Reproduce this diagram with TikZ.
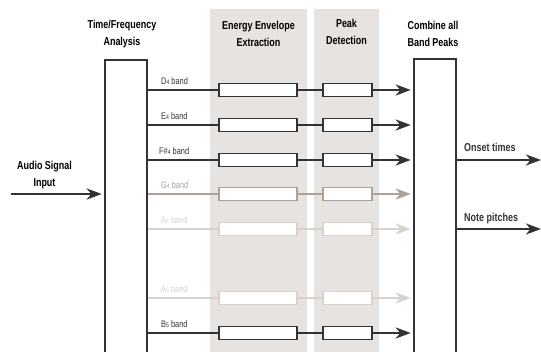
\documentclass[tikz,border=0pt]{standalone}
\usepackage{fontspec}
\setmainfont{Liberation Sans}[FakeStretch=0.78]
\usetikzlibrary{positioning,arrows.meta}
\definecolor{colgray}{HTML}{E6E3E0}
\definecolor{banddark}{HTML}{333333}
\definecolor{bandmid}{HTML}{ACA09B}
\definecolor{bandlight}{HTML}{D8D1CC}
\newcommand{\octv}[1]{{\fontsize{6.5}{7}\selectfont #1}}
\tikzset{
  tallbox/.style={draw=banddark, line width=2.5pt, fill=white, minimum width=42pt,
    minimum height=340pt, anchor=north, inner sep=0pt},
  envbox/.style={draw, line width=1.4pt, fill=white, minimum width=78pt,
    minimum height=13pt, inner sep=0pt},
  pkbox/.style={envbox, minimum width=49pt},
  bandline/.style={line width=2.6pt},
  bandarrow/.style={bandline, -{Stealth[length=15pt, width=11pt, inset=4.5pt]}, shorten >=2pt},
  bandlabel/.style={font=\fontsize{9.5}{10}\selectfont, anchor=base west, inner sep=0pt},
  figtitle/.style={font=\fontsize{11.5}{17}\selectfont\bfseries, align=center, inner sep=0pt},
  outlabel/.style={font=\fontsize{11.5}{13}\selectfont\bfseries, anchor=base west, inner sep=0pt},
}

\begin{document}
\begin{tikzpicture}[x=1pt, y=-1pt]
  \useasboundingbox (0,0) rectangle (541,352);
  \clip (0,0) rectangle (541,352);
  % stage columns
  \fill[colgray] (210,9) rectangle (307,360);
  \fill[colgray] (314,9) rectangle (379,360);
  % titles
  \node[figtitle] (ttfa) at (122,34) {Time/Frequency\\Analysis};
  \node[figtitle] (tenv) at (258.5,34) {Energy Envelope\\Extraction};
  \node[figtitle] (tpk) at (346.5,32) {Peak\\Detection};
  \node[figtitle] (tcmb) at (433,34) {Combine all\\Band Peaks};
  % analysis and combine blocks
  \node[tallbox] (tfa) at (126,59) {};
  \node[tallbox] (cmb) at (435,58) {};
  % input
  \node[figtitle] (ain) at (44.5,175) {Audio Signal\\Input};
  \coordinate (asrc) at (11,194);
  \draw[bandarrow, banddark] (asrc) -- (tfa.west |- asrc);
  % outputs
  \coordinate (onset) at (541,160);
  \coordinate (pitch) at (541,229);
  \draw[bandarrow, banddark, shorten >=0pt] (cmb.east |- onset) -- (onset);
  \draw[bandarrow, banddark, shorten >=0pt] (cmb.east |- pitch) -- (pitch);
  \node[outlabel, text=banddark] (lonset) at (464,152) {Onset times};
  \node[outlabel, text=banddark] (lpitch) at (464,222) {Note pitches};
  % D4 band
  \node[envbox, draw=banddark] (eD) at (258,90) {};
  \node[pkbox, draw=banddark] (pD) at (347.5,90) {};
  \node[bandlabel, text=banddark] (lD) at (161,85) {D\octv{4} band};
  \draw[bandline, banddark] (tfa.east |- eD) -- (eD);
  \draw[bandline, banddark] (eD) -- (pD);
  \draw[bandarrow, banddark] (pD) -- (cmb.west |- pD);
  % E4 band
  \node[envbox, draw=banddark] (eE) at (258,125) {};
  \node[pkbox, draw=banddark] (pE) at (347.5,125) {};
  \node[bandlabel, text=banddark] (lE) at (161,120) {E\octv{4} band};
  \draw[bandline, banddark] (tfa.east |- eE) -- (eE);
  \draw[bandline, banddark] (eE) -- (pE);
  \draw[bandarrow, banddark] (pE) -- (cmb.west |- pE);
  % F#4 band
  \node[envbox, draw=banddark] (eF) at (258,160) {};
  \node[pkbox, draw=banddark] (pF) at (347.5,160) {};
  \node[bandlabel, text=banddark] (lF) at (159,155) {F\#\octv{4} band};
  \draw[bandline, banddark] (tfa.east |- eF) -- (eF);
  \draw[bandline, banddark] (eF) -- (pF);
  \draw[bandarrow, banddark] (pF) -- (cmb.west |- pF);
  % G4 band
  \node[envbox, draw=bandmid] (eG) at (258,194) {};
  \node[pkbox, draw=bandmid] (pG) at (347.5,194) {};
  \node[bandlabel, text=bandmid] (lG) at (161,189) {G\octv{4} band};
  \draw[bandline, bandmid] (tfa.east |- eG) -- (eG);
  \draw[bandline, bandmid] (eG) -- (pG);
  \draw[bandarrow, bandmid] (pG) -- (cmb.west |- pG);
  % A4 band
  \node[envbox, draw=bandlight] (eA) at (258,229) {};
  \node[pkbox, draw=bandlight] (pA) at (347.5,229) {};
  \node[bandlabel, text=bandlight] (lA) at (161,224) {A\octv{4} band};
  \draw[bandline, bandlight] (tfa.east |- eA) -- (eA);
  \draw[bandline, bandlight] (eA) -- (pA);
  \draw[bandarrow, bandlight] (pA) -- (cmb.west |- pA);
  % A5 band
  \node[envbox, draw=bandlight] (eAf) at (258,298) {};
  \node[pkbox, draw=bandlight] (pAf) at (347.5,298) {};
  \node[bandlabel, text=bandlight] (lAf) at (161,293) {A\octv{5} band};
  \draw[bandline, bandlight] (tfa.east |- eAf) -- (eAf);
  \draw[bandline, bandlight] (eAf) -- (pAf);
  \draw[bandarrow, bandlight] (pAf) -- (cmb.west |- pAf);
  % B5 band
  \node[envbox, draw=banddark] (eB) at (258,333) {};
  \node[pkbox, draw=banddark] (pB) at (347.5,333) {};
  \node[bandlabel, text=banddark] (lB) at (161,328) {B\octv{5} band};
  \draw[bandline, banddark] (tfa.east |- eB) -- (eB);
  \draw[bandline, banddark] (eB) -- (pB);
  \draw[bandarrow, banddark] (pB) -- (cmb.west |- pB);
\end{tikzpicture}
\end{document}
